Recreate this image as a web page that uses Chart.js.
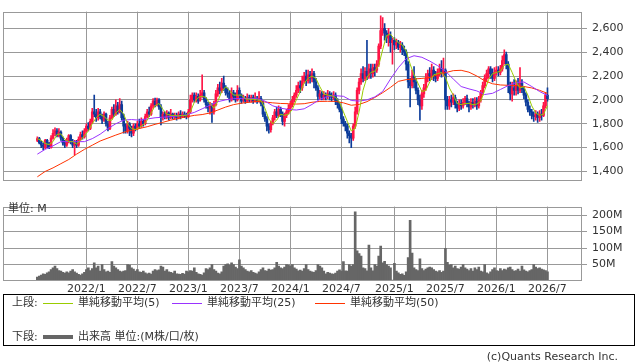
<!DOCTYPE html>
<html lang="ja">
<head>
<meta charset="utf-8">
<title>株価チャート（週足）</title>
<script src="https://cdn.jsdelivr.net/npm/chart.js@4.4.1/dist/chart.umd.min.js"></script>
<style>
  html, body { margin: 0; padding: 0; background: #fff; }
  body { width: 638px; height: 362px; position: relative; overflow: hidden;
         font-family: "DejaVu Sans", "Noto Sans CJK JP", sans-serif; font-size: 11px; color: #333; }
  canvas { position: absolute; left: 0; }
  #price { top: 0; }
  #volume { top: 195px; }
  .t { position: absolute; line-height: 14px; white-space: nowrap; }
  .ln { position: absolute; width: 30px; height: 1px; }
  #legend { position: absolute; left: 3px; top: 294px; width: 632px; height: 52px;
            box-sizing: border-box; border: 1px solid #000; }
</style>
</head>
<body>
<canvas id="price" width="638" height="192"></canvas>
<canvas id="volume" width="638" height="105"></canvas>
<div class="t" style="left:8px;top:202px">単位: M</div>
<div id="legend"></div>
<div class="t" style="left:12px;top:296px">上段:</div>
<div class="ln" style="left:43px;top:303px;background:#99cc00"></div>
<div class="t" style="left:78px;top:296px">単純移動平均(5)</div>
<div class="ln" style="left:172px;top:303px;background:#9933ff"></div>
<div class="t" style="left:207px;top:296px">単純移動平均(25)</div>
<div class="ln" style="left:315px;top:303px;background:#ff3300"></div>
<div class="t" style="left:350px;top:296px">単純移動平均(50)</div>
<div class="t" style="left:12px;top:330px">下段:</div>
<div class="ln" style="left:43px;top:335px;height:4px;background:#666"></div>
<div class="t" style="left:78px;top:330px">出来高 単位:(M株/口/枚)</div>
<div class="t" style="right:20px;top:350px">(c)Quants Research Inc.</div>

<script>
/* ---------- 週足データ ---------- */
const tickWeeks = [25, 51, 77, 103, 129, 155, 182, 208, 234, 260];
const tickLabels = ['2022/1', '2022/7', '2023/1', '2023/7', '2024/1', '2024/7', '2025/1', '2025/7', '2026/1', '2026/7'];
const priceTicks = [1400, 1600, 1800, 2000, 2200, 2400, 2600];
const volTicks = [50, 100, 150, 200];

const opens = [
  1660,1675,1640,1620,1600,1660,1630,1600,1680,1720, 1740,1700,1730,1680,1640,1620,1660,1700,1650,1620,
  1640,1620,1670,1710,1690,1740,1780,1760,1820,1900, 1880,1850,1900,1860,1830,1880,1800,1760,1850,1920,
  1880,1950,1900,1960,1850,1780,1740,1800,1760,1720, 1780,1760,1800,1780,1820,1800,1860,1900,1880,1950,
  1990,1960,2000,1940,1850,1880,1860,1890,1850,1880, 1860,1870,1850,1880,1860,1880,1870,1860,1900,2000,
  2040,2000,2030,2000,2040,2060,2000,1960,1930,1950, 1900,1960,2050,2100,2080,2140,2100,2060,2050,2000,
  2060,2030,2000,2080,2040,2000,2010,1990,2020,2000, 2020,1990,2010,1990,2010,1970,1880,1840,1780,1750,
  1800,1850,1900,1870,1920,1880,1820,1870,1900,1930, 1960,2000,2040,2080,2120,2100,2160,2200,2160,2210,
  2180,2220,2150,2100,2030,2050,2020,2040,2030,2050, 2030,2020,2040,1990,1960,1920,1840,1800,1780,1720,
  1700,1680,1780,1900,2080,2150,2220,2180,2240,2200, 2260,2220,2270,2250,2300,2450,2580,2600,2560,2520,
  2540,2480,2500,2460,2480,2440,2460,2420,2400,2300, 2150,2120,2200,2150,2080,2000,1950,2050,2100,2180,
  2220,2200,2250,2200,2180,2230,2260,2220,2250,2000, 1950,2000,1980,2020,1960,1930,1970,1950,1980,2010,
  1970,1940,1980,1960,1990,1950,2000,2060,2120,2180, 2220,2260,2220,2180,2230,2250,2230,2260,2330,2380,
  2300,2120,2050,2100,2080,2120,2080,2140,2090,2040, 1980,1920,1900,1870,1860,1880,1850,1880,1870,1950,
  2040,
];
const highs = [
  1690,1685,1655,1640,1670,1670,1645,1700,1750,1765, 1760,1760,1740,1690,1660,1680,1710,1710,1670,1660,
  1660,1690,1730,1740,1760,1800,1810,1840,1930,2040, 1920,1930,1920,1880,1900,1890,1820,1870,1940,1960,
  2000,1980,2010,1990,1880,1800,1820,1810,1780,1800, 1800,1820,1840,1850,1840,1880,1920,1940,1970,2010,
  2015,2015,2010,1960,1900,1900,1910,1900,1920,1890, 1890,1890,1900,1910,1900,1900,1890,1920,2040,2060,
  2060,2060,2050,2080,2210,2080,2020,1980,1980,1970, 1990,2080,2130,2150,2180,2200,2120,2100,2080,2100,
  2080,2060,2120,2100,2050,2040,2030,2050,2040,2040, 2040,2060,2030,2070,2030,1990,1900,1860,1800,1820,
  1870,1920,1940,1950,1940,1900,1890,1920,1960,1990, 2030,2060,2120,2150,2160,2200,2230,2250,2250,2240,
  2260,2240,2180,2120,2080,2070,2070,2060,2080,2070, 2060,2070,2060,2010,1980,1940,1860,1820,1800,1740,
  1720,1800,1940,2100,2180,2260,2280,2270,2500,2300, 2300,2300,2300,2330,2470,2705,2690,2640,2580,2600,
  2570,2520,2520,2510,2500,2490,2480,2450,2420,2320, 2180,2250,2280,2180,2100,2040,2080,2130,2220,2250,
  2270,2300,2280,2240,2260,2300,2330,2350,2260,2030, 2030,2040,2050,2040,1990,2000,2000,2010,2030,2040,
  1990,2010,2010,2020,2020,2030,2080,2150,2210,2250, 2280,2280,2260,2270,2280,2280,2290,2370,2420,2400,
  2320,2150,2150,2170,2160,2180,2270,2170,2110,2060, 2000,1950,1920,1900,1910,1900,1910,1920,1980,2060,
  2100,
];
const lows = [
  1650,1630,1600,1580,1590,1600,1590,1595,1670,1700, 1690,1690,1660,1620,1600,1610,1640,1630,1600,1540,
  1600,1610,1660,1670,1680,1730,1740,1750,1800,1860, 1820,1830,1840,1800,1820,1780,1740,1750,1840,1860,
  1870,1880,1890,1830,1720,1720,1720,1700,1690,1700, 1740,1750,1760,1770,1780,1790,1850,1860,1870,1930,
  1940,1950,1920,1790,1830,1840,1840,1830,1840,1840, 1840,1830,1840,1840,1850,1850,1840,1850,1890,1980,
  1980,1980,1970,1990,2020,1980,1930,1900,1880,1810, 1880,1950,2030,2050,2060,2080,2040,2020,1980,1990,
  2000,1980,1990,2010,1970,1980,1970,1980,1980,1980, 1970,1980,1970,1980,1950,1860,1820,1740,1720,1730,
  1790,1830,1850,1860,1860,1790,1780,1850,1880,1910, 1940,1980,2020,2060,2060,2080,2140,2120,2140,2140,
  2150,2100,2080,2000,2000,2000,2000,2000,2010,2000, 1990,2000,1960,1930,1900,1800,1780,1740,1680,1640,
  1600,1660,1760,1880,2050,2130,2150,2160,2170,2180, 2180,2190,2200,2230,2280,2430,2540,2500,2480,2450,
  2400,2300,2420,2430,2420,2400,2380,2370,2250,2100, 1940,2100,2100,2050,1960,1830,1920,2020,2080,2150,
  2160,2170,2160,2150,2160,2200,2190,2200,1920,1920, 1920,1940,1960,1930,1900,1910,1920,1930,1960,1940,
  1900,1920,1930,1940,1920,1930,1980,2040,2100,2150, 2180,2180,2150,2160,2210,2200,2210,2240,2300,2260,
  2060,2000,1990,2040,2040,2050,2060,2060,2010,1950, 1900,1870,1840,1820,1830,1810,1820,1830,1860,1930,
  1990,
];
const closes = [
  1675,1640,1620,1610,1660,1630,1600,1680,1720,1740, 1700,1730,1680,1640,1620,1660,1700,1650,1620,1640,
  1620,1670,1710,1690,1740,1780,1760,1820,1900,1880, 1850,1900,1860,1830,1880,1800,1760,1850,1920,1880,
  1950,1900,1960,1850,1780,1740,1800,1760,1720,1780, 1760,1800,1780,1820,1800,1860,1900,1880,1950,1990,
  1960,2000,1940,1850,1880,1860,1890,1850,1880,1860, 1870,1850,1880,1860,1880,1870,1860,1900,2000,2040,
  2000,2030,1990,2040,2060,2000,1960,1930,1950,1900, 1960,2050,2100,2080,2140,2100,2060,2050,2000,2060,
  2030,2000,2080,2040,1990,2010,1990,2020,2000,2020, 1990,2010,1990,2010,1970,1880,1840,1780,1750,1800,
  1850,1900,1870,1920,1880,1820,1870,1900,1930,1960, 2000,2040,2080,2120,2100,2160,2200,2160,2210,2180,
  2220,2150,2100,2030,2050,2020,2040,2030,2050,2030, 2020,2040,1990,1960,1920,1840,1800,1780,1720,1700,
  1680,1780,1900,2080,2150,2220,2180,2240,2200,2260, 2220,2270,2250,2300,2450,2580,2600,2560,2520,2540,
  2480,2500,2460,2480,2440,2460,2420,2400,2300,2150, 2120,2200,2150,2080,2000,1950,2050,2100,2180,2220,
  2200,2250,2200,2180,2230,2260,2220,2250,2000,1950, 2000,1980,2020,1960,1930,1970,1950,1980,2010,1970,
  1940,1980,1960,1990,1950,2000,2060,2120,2180,2220, 2260,2220,2180,2230,2250,2230,2260,2330,2380,2300,
  2120,2050,2100,2080,2120,2080,2140,2090,2040,1980, 1920,1900,1870,1860,1880,1850,1880,1870,1950,2040,
  2010,
];
// 出来高（M株）
const volumes = [
  12,15,18,22,20,25,28,35,40,45, 38,32,30,26,24,28,25,30,35,28,
  24,20,18,22,26,35,40,32,38,55, 40,45,30,50,35,28,30,26,59,45,
  40,35,30,28,30,32,50,48,40,36, 30,35,28,26,30,25,22,24,21,30,
  35,32,34,45,42,30,35,28,26,24, 30,22,21,20,23,21,30,28,32,30,
  40,26,22,20,18,25,38,35,40,50, 35,30,24,22,28,45,50,52,48,55,
  50,42,38,64,45,40,35,30,28,32, 26,24,22,28,35,40,32,30,36,33,
  35,40,57,45,40,38,42,50,48,45, 50,40,36,31,33,30,38,50,35,30,
  28,26,32,50,45,40,30,22,26,24, 22,21,24,30,34,30,59,31,30,50,
  45,50,210,92,83,76,40,38,31,109, 40,31,50,45,76,106,55,60,50,45,
  40,3,54,30,25,20,22,17,28,71, 184,85,40,35,32,67,38,32,36,40,
  42,40,35,30,28,32,26,30,99,57, 48,50,40,45,38,36,42,50,40,36,
  32,38,30,40,35,42,30,28,50,25, 22,28,35,40,32,30,38,32,36,34,
  40,42,35,30,32,36,30,45,34,30, 28,32,35,50,42,38,40,36,34,32,
  28,
];
// 移動平均（線から読み取り、MA5 は2週ごと、MA25/MA50 は4週ごと）
const ma5Step = 2;
const ma5 = [
  1675,1660,1635,1625,1650,1710,1715,1670,1650,1650, 1630,1660,1700,1740,1800,1850,1880,1860,1830,1830,
  1890,1920,1880,1800,1760,1750,1770,1790,1830,1890, 1950,1970,1920,1880,1870,1870,1865,1870,1870,1900,
  1980,2020,2030,2020,1970,1930,1990,2070,2110,2080, 2040,2040,2040,2010,2005,2005,2000,1995,1930,1840,
  1800,1830,1880,1870,1880,1920,2000,2070,2140,2180, 2200,2180,2110,2050,2040,2035,2020,1980,1900,1820,
  1740,1760,1900,2080,2190,2230,2240,2290,2420,2540, 2550,2510,2480,2460,2410,2300,2210,2140,2070,2080,
  2150,2210,2220,2230,2190,2100,2040,1970,1960,1970, 1970,1960,1965,1990,2080,2170,2220,2230,2240,2290,
  2300,2230,2150,2100,2110,2040,1950,1890,1870,1880, 1950,
];
const maStep = 4;
const ma25 = [
  1545,1585,1615,1650,1650,1650,1650,1675,1712,1760, 1800,1830,1835,1830,1840,1850,1855,1860,1865,1875,
  1895,1925,1955,1985,2000,2010,2012,2012,2010,1990, 1950,1930,1920,1915,1925,1962,2005,2030,2035,2030,
  1995,1990,2000,2025,2070,2175,2270,2345,2370,2357, 2325,2287,2240,2175,2112,2092,2075,2045,2055,2087,
  2120,2145,2150,2112,2070,2037,
];
const ma50 = [
  1355,1400,1430,1465,1500,1545,1585,1620,1655,1680, 1705,1728,1745,1760,1775,1795,1812,1830,1845,1858,
  1870,1877,1890,1915,1940,1960,1972,1980,1987,1982, 1975,1970,1968,1965,1968,1980,1987,1988,1987,1975,
  1955,1962,1985,2020,2060,2105,2155,2170,2175,2180, 2188,2210,2228,2245,2248,2232,2200,2160,2135,2125,
  2122,2120,2112,2100,2080,2055,
];

/* ---------- 表示設定 ---------- */
const C = {
  up: '#ff1446', down: '#0c3c9a', ma5: '#99cc00', ma25: '#9933ff', ma50: '#ff3300',
  vol: '#666666', grid: '#999999', text: '#333333',
};
const X_MIN = -17.5;
const X_MAX = 277.6;

Chart.defaults.font.family = '"DejaVu Sans", "Noto Sans CJK JP", sans-serif';
Chart.defaults.font.size = 11;
Chart.defaults.color = C.text;

// 枠線（プロット領域の四辺）
const framePlugin = {
  id: 'frame',
  afterDraw(chart) {
    const { ctx, chartArea: a } = chart;
    ctx.save();
    ctx.strokeStyle = C.grid;
    ctx.lineWidth = 1;
    ctx.strokeRect(Math.round(a.left) + 0.5, Math.round(a.top) + 0.5,
      Math.round(a.right - a.left) - 1, Math.round(a.bottom - a.top) - 1);
    ctx.restore();
  },
};

function xScale(showLabels) {
  return {
    type: 'linear', min: X_MIN, max: X_MAX, offset: false,
    afterBuildTicks: (s) => { s.ticks = tickWeeks.map((v) => ({ value: v })); },
    afterFit: (s) => { s.height = showLabels ? 19 : 0; },
    grid: { color: C.grid, drawTicks: false, offset: false },
    border: { display: false },
    ticks: {
      display: showLabels, autoSkip: false, maxRotation: 0, padding: 2,
      callback: (v) => tickLabels[tickWeeks.indexOf(v)],
    },
  };
}

function yScale(min, max, ticks, label) {
  return {
    position: 'right', min, max,
    afterBuildTicks: (s) => { s.ticks = ticks.map((v) => ({ value: v })); },
    afterFit: (s) => { s.width = 56; },
    grid: { color: C.grid, tickLength: 5 },
    border: { display: false },
    ticks: { padding: 5, callback: label },
  };
}

const baseOptions = {
  responsive: false, animation: false, events: [], devicePixelRatio: 1,
  plugins: { legend: { display: false }, tooltip: { enabled: false } },
};

const line = (arr, step, color, order) => ({
  type: 'line', data: arr.map((v, i) => ({ x: i * step, y: v })),
  borderColor: color, borderWidth: 1, pointRadius: 0, tension: 0, order,
});

/* ---------- 上段：ローソク足＋移動平均 ---------- */
const candleColor = closes.map((c, i) => (c >= opens[i] ? C.up : C.down));

new Chart(document.getElementById('price'), {
  type: 'bar',
  data: {
    datasets: [
      line(ma5, ma5Step, C.ma5, 0),
      line(ma25, maStep, C.ma25, 1),
      line(ma50, maStep, C.ma50, 2),
      {
        type: 'bar', data: closes.map((c, i) => ({ x: i, y: [opens[i], c] })),
        backgroundColor: candleColor, barThickness: 2, grouped: false, order: 3,
      },
      {
        type: 'bar', data: closes.map((c, i) => ({ x: i, y: [lows[i], highs[i]] })),
        backgroundColor: candleColor, barThickness: 1, grouped: false, order: 4,
      },
    ],
  },
  options: {
    ...baseOptions,
    layout: { padding: { left: 3, top: 1, right: 0, bottom: 2 } },
    scales: {
      x: xScale(false),
      y: yScale(1325, 2740, priceTicks, (v) => v.toLocaleString('en-US')),
    },
  },
  plugins: [framePlugin],
});

/* ---------- 下段：出来高 ---------- */
new Chart(document.getElementById('volume'), {
  type: 'bar',
  data: {
    datasets: [{
      data: volumes.map((v, i) => ({ x: i, y: v })),
      backgroundColor: C.vol, barThickness: 2,
    }],
  },
  options: {
    ...baseOptions,
    layout: { padding: { left: 3, top: 6, right: 0, bottom: 0 } },
    scales: {
      x: xScale(true),
      y: yScale(0, 226, volTicks, (v) => v + 'M'),
    },
  },
  plugins: [framePlugin],
});
</script>
</body>
</html>
